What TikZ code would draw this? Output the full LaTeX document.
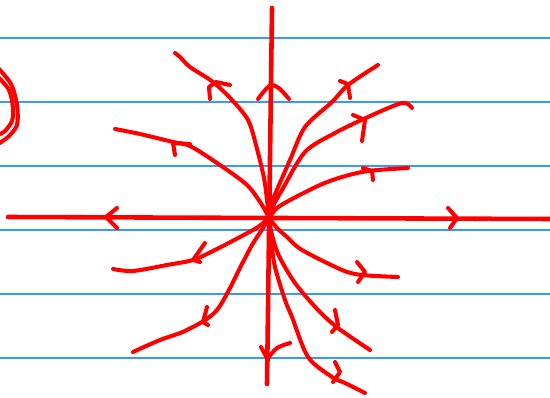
\documentclass[tikz,border=0pt]{standalone}
\usetikzlibrary{arrows.meta, calc}
\definecolor{pen}{HTML}{FF0000}
\definecolor{rule}{HTML}{3399FF}
\tikzset{
  every picture/.style={line cap=round, line join=round},
  ruling/.style={draw=rule, line width=0.9pt},
  axis/.style={draw=pen, line width=2.6pt},
  traj/.style={draw=pen, line width=2.3pt},
  chev/.style={draw=pen, line width=2.3pt},
}
\begin{document}
\begin{tikzpicture}[x=0.02cm, y=-0.02cm]
  \useasboundingbox (0,0) rectangle (550,398);
  \clip (0,0) rectangle (550,398);
  % ruled paper
  \foreach \yy in {38,102,166,230,294,358}
    \draw[ruling] (0,\yy) -- (550,\yy);
  % scrap of a letter at the left edge
  \draw[traj] plot[smooth] coordinates {(-2,68) (11,84) (17,105) (17,125) (8,137) (-2,144)};
  \draw[traj] plot[smooth] coordinates {(-2,77) (9,90) (13,108) (12,121) (5,131) (-2,135)};
  % axes
  \coordinate (O) at (269,218);
  \draw[axis] (8,217) -- (550,219);
  \draw[axis] (272,8) -- (267,384);
  \draw[chev] (117,208) -- (106,217) -- (117,228);
  \draw[chev] (448,208) -- (457,218) -- (450,228);
  \draw[chev] plot[smooth] coordinates {(258,99) (266,89) (272,85) (280,89) (289,99)};
  \draw[chev] (261,347) -- (268,360);
  \draw[chev] plot[smooth] coordinates {(268,358) (277,348) (290,343)};
  % trajectories leaving the node, upper half
  \draw[traj] plot[smooth] coordinates {(O) (267,200) (264,178) (256,145) (248,120) (232,100) (213,82) (190,67) (180,57) (175,53)};
  \draw[chev] (210,99) -- (209,87) -- (216,82) -- (230,85);
  \draw[traj] plot[smooth] coordinates {(O) (262,205) (247,185) (217,163) (190,146) (173,142) (140,134) (115,129)};
  \draw[chev] (175,155) -- (173,143) -- (190,144);
  \draw[traj] plot[smooth] coordinates {(O) (271,205) (276,192) (290,160) (305,127) (332,102) (348,85) (378,65)};
  \draw[chev] (340,81) -- (348,84) -- (350,98);
  \draw[traj] plot[smooth] coordinates {(O) (273,206) (282,190) (305,152) (335,133) (368,117) (402,103) (412,108)};
  \draw[chev] (353,115) -- (365,120) -- (362,141);
  \draw[traj] plot[smooth] coordinates {(O) (277,208) (292,199) (320,185) (342,177) (368,171) (408,168)};
  \draw[chev] (363,168) -- (372,171) -- (373,180);
  % lower half
  \draw[traj] plot[smooth] coordinates {(O) (258,227) (240,237) (215,250) (193,260) (167,265) (133,271) (113,269)};
  \draw[chev] (205,243) -- (193,260) -- (200,262);
  \draw[traj] plot[smooth] coordinates {(O) (263,228) (252,245) (243,262) (217,310) (187,330) (160,340) (133,352)};
  \draw[chev] (207,307) -- (203,322) -- (208,325);
  \draw[traj] plot[smooth] coordinates {(O) (277,228) (287,237) (302,250) (342,270) (362,275) (398,277)};
  \draw[chev] (357,262) -- (365,272) -- (358,282);
  \draw[traj] plot[smooth] coordinates {(O) (272,235) (279,256) (295,283) (318,310) (338,328) (370,350)};
  \draw[chev] (335,310) -- (338,325) -- (332,332);
  \draw[traj] plot[smooth] coordinates {(O) (271,240) (275,267) (285,300) (292,317) (308,357) (332,377) (345,383) (365,393)};
  \draw[chev] (335,362) -- (340,372) -- (333,382);
\end{tikzpicture}
\end{document}
